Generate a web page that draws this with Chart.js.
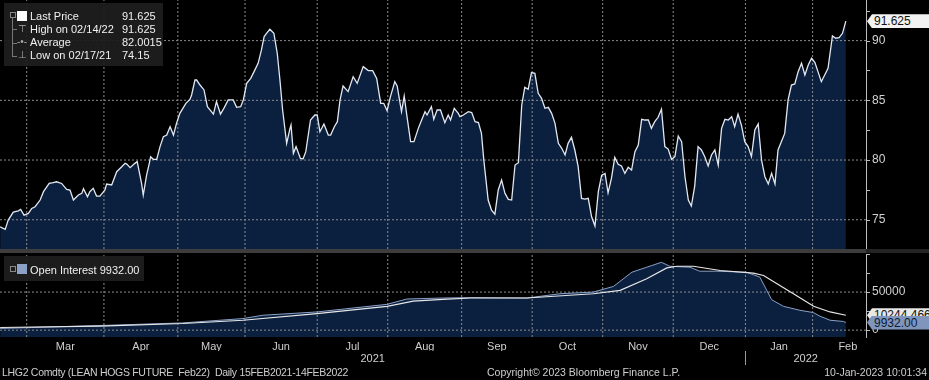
<!DOCTYPE html>
<html>
<head>
<meta charset="utf-8">
<script src="https://cdn.jsdelivr.net/npm/chart.js@4.4.1/dist/chart.umd.min.js"></script>
<style>
  html, body { margin: 0; padding: 0; background: #000; }
  body { width: 929px; height: 380px; position: relative; overflow: hidden; font-family: "Liberation Sans", Arial, sans-serif; color: #d6d6d6; }
  canvas { position: absolute; left: 0; }
  #priceChart { top: 0; }
  #oiChart { top: 253px; }
  .divider { position: absolute; top: 249px; height: 4px; }
  .legend { position: absolute; background: rgba(30, 30, 30, 0.94); }
  .row { position: absolute; font-size: 11px; line-height: 13px; color: #f0f0f0; white-space: nowrap; }
  .icon { position: absolute; }
  .tag { position: absolute; left: 867px; width: 62px; height: 14px; font-size: 12px; line-height: 14px; padding-left: 7px; box-sizing: border-box; white-space: nowrap; clip-path: polygon(5px 0, 100% 0, 100% 100%, 5px 100%, 0 50%); }
  .foot { position: absolute; top: 366px; font-size: 10.5px; line-height: 13px; color: #cfcfcf; white-space: nowrap; }
</style>
</head>
<body>
<canvas id="priceChart" width="929" height="250"></canvas>
<canvas id="oiChart" width="929" height="115"></canvas>

<div class="divider" style="left:0;width:866px;background:#3d3d3d;"></div>
<div class="divider" style="left:866px;width:63px;background:#242424;"></div>

<div class="legend" style="left:4px;top:3px;width:159px;height:63px;"></div>
<div class="icon" style="left:10px;top:12px;width:4px;height:4px;border:1px solid #888;"></div>
<div class="icon" style="left:12px;top:18px;width:1px;height:39px;background:#777;"></div>
<div class="icon" style="left:12px;top:29px;width:5px;height:1px;background:#777;"></div>
<div class="icon" style="left:12px;top:43px;width:5px;height:1px;background:#777;"></div>
<div class="icon" style="left:12px;top:56px;width:5px;height:1px;background:#777;"></div>
<div class="icon" style="left:17px;top:11px;width:10px;height:10px;background:#fff;"></div>
<div class="icon" style="left:18px;top:23px;font-size:10px;color:#aaa;">⊤</div>
<div class="icon" style="left:17px;top:36px;font-size:10px;color:#aaa;">-•-</div>
<div class="icon" style="left:18px;top:49px;font-size:10px;color:#aaa;">⊥</div>
<div class="row" style="left:30px;top:10px;">Last Price</div>
<div class="row" style="left:122px;top:10px;" id="lastPriceText"></div>
<div class="row" style="left:30px;top:23px;" id="highText"></div>
<div class="row" style="left:122px;top:23px;" id="highValueText"></div>
<div class="row" style="left:30px;top:36px;">Average</div>
<div class="row" style="left:122px;top:36px;" id="avgText"></div>
<div class="row" style="left:30px;top:49px;" id="lowText"></div>
<div class="row" style="left:122px;top:49px;" id="lowValueText"></div>

<div class="legend" style="left:4px;top:256px;width:140px;height:25px;"></div>
<div class="icon" style="left:10px;top:266px;width:4px;height:4px;border:1px solid #888;"></div>
<div class="icon" style="left:17px;top:264px;width:10px;height:10px;background:#8ba1c8;"></div>
<div class="row" style="left:30px;top:264px;" id="oiLegendText"></div>

<div class="tag" id="overlayTag" style="background:#e8e8e8;color:#111;">10244.4669</div>
<div class="tag" id="oiTag" style="background:#8095bb;color:#0c1a33;"></div>
<div class="tag" id="priceTag" style="background:#f2f2f2;color:#111;"></div>

<div class="foot" style="left:2px;letter-spacing:-0.3px;">LHG2 Comdty (LEAN HOGS FUTURE&nbsp; Feb22)&nbsp; Daily 15FEB2021-14FEB2022</div>
<div class="foot" style="left:487px;">Copyright© 2023 Bloomberg Finance L.P.</div>
<div class="foot" style="right:2px;">10-Jan-2023 10:01:34</div>

<script>
// x values are trading days counted from 16 Feb 2021
const priceDays = [
    1.1, 2.6, 3.5, 5.0, 6.5, 7.2, 8.2, 9.5, 10.5, 11.5,
    13.0, 14.0, 15.7, 16.9, 17.9, 19.4, 20.9, 21.9, 22.9, 24.4,
    25.4, 25.9, 27.1, 27.8, 28.8, 29.8, 30.8, 32.3, 32.8, 34.3,
    35.8, 37.3, 38.3, 38.8, 39.8, 41.2, 41.9, 43.2, 43.7, 44.7,
    45.5, 45.9, 46.7, 47.7, 48.7, 49.7, 50.7, 51.7, 52.7, 53.6,
    54.6, 56.4, 57.6, 58.1, 59.1, 59.6, 60.6, 61.8, 62.8, 64.6,
    65.5, 66.7, 67.7, 69.0, 70.5, 71.5, 72.7, 73.5, 74.5, 75.7,
    76.7, 77.9, 78.9, 79.7, 80.4, 81.4, 82.6, 83.6, 84.4, 85.2,
    86.4, 87.4, 87.7, 88.4, 89.2, 90.5, 91.3, 92.1, 93.5, 94.8,
    95.5, 96.3, 97.5, 98.8, 99.5, 100.6, 101.5, 102.3, 103.2, 104.7,
    106.2, 107.4, 109.2, 110.7, 112.0, 113.2, 114.4, 115.3, 116.3, 117.3,
    118.6, 119.3, 120.6, 121.4, 122.1, 123.3, 124.3, 125.6, 126.6, 127.6,
    128.2, 129.5, 130.2, 131.2, 132.2, 133.5, 134.5, 135.2, 136.3, 137.5,
    138.0, 139.0, 140.5, 141.5, 142.5, 143.5, 144.4, 145.1, 146.4, 147.4,
    148.4, 149.4, 150.4, 151.4, 152.4, 153.4, 154.4, 155.4, 156.4, 157.3,
    158.3, 159.3, 160.3, 161.3, 162.3, 163.3, 164.3, 165.3, 166.3, 167.3,
    168.3, 169.3, 170.2, 171.2, 172.2, 173.2, 174.2, 175.2, 176.2, 177.2,
    178.2, 179.2, 180.2, 181.2, 182.1, 183.1, 184.1, 185.1, 186.1, 187.1,
    188.1, 189.1, 190.1, 191.1, 192.1, 193.1, 194.1, 195.0, 196.0, 197.0,
    198.0, 199.0, 200.0, 201.0, 202.0, 203.0, 204.0, 205.0, 206.0, 206.9,
    207.9, 208.9, 209.9, 210.9, 211.9, 212.9, 213.9, 214.9, 215.9, 216.9,
    217.9, 218.9, 219.8, 220.8, 221.8, 222.8, 223.8, 224.8, 225.8, 226.8,
    227.8, 228.8, 229.8, 230.8, 231.8, 232.7, 233.7, 234.7, 235.7, 236.7,
    237.7, 238.7, 239.7, 240.7, 241.7, 242.7, 243.7, 244.6, 245.6, 246.6,
    247.6, 248.9, 249.9, 250.9, 251.9, 252.9
];
const priceValues = [
    74.41, 74.19, 74.97, 75.64, 75.75, 75.87, 75.39, 75.53, 75.95, 76.09,
    76.65, 77.35, 78.04, 78.10, 78.18, 78.04, 77.54, 77.49, 76.65, 77.07,
    77.21, 77.60, 76.93, 77.35, 77.63, 76.98, 76.98, 77.49, 77.99, 77.91,
    79.02, 79.44, 79.72, 79.66, 79.36, 79.72, 79.86, 78.04, 77.07, 78.74,
    79.72, 80.28, 80.06, 80.06, 81.12, 81.96, 82.09, 82.79, 82.09, 83.07,
    83.91, 84.75, 85.08, 85.45, 86.70, 86.70, 86.28, 85.87, 84.47, 83.85,
    84.89, 83.85, 84.33, 85.03, 85.03, 84.41, 84.47, 85.03, 86.42, 86.84,
    87.40, 88.10, 89.22, 90.34, 90.61, 90.95, 90.61, 88.94, 86.70, 84.19,
    81.40, 82.65, 82.93, 80.56, 81.12, 80.14, 80.11, 80.70, 83.35, 83.77,
    83.77, 82.37, 83.02, 82.09, 82.09, 82.79, 83.21, 85.03, 86.20, 85.73,
    86.98, 86.42, 87.82, 87.49, 87.49, 86.84, 84.75, 84.75, 84.13, 85.31,
    86.56, 86.20, 84.05, 85.36, 83.91, 81.54, 81.54, 82.65, 83.35, 84.05,
    83.77, 84.47, 83.41, 84.19, 84.19, 83.13, 83.77, 83.35, 84.33, 83.91,
    83.63, 83.77, 84.05, 83.97, 83.21, 83.13, 82.23, 80.00, 76.65, 75.81,
    75.47, 77.49, 78.32, 77.21, 76.70, 76.65, 79.58, 79.78, 84.61, 86.09,
    85.92, 87.32, 87.26, 85.59, 85.17, 84.33, 84.41, 83.91, 83.07, 81.40,
    80.98, 80.42, 81.40, 81.90, 80.84, 79.44, 76.79, 76.73, 76.79, 75.25,
    74.47, 77.35, 78.74, 78.88, 77.26, 78.46, 80.22, 79.64, 79.50, 78.88,
    79.39, 79.16, 80.70, 81.26, 83.41, 83.35, 83.35, 82.65, 83.21, 83.58,
    84.25, 81.12, 80.92, 80.06, 80.28, 82.01, 81.54, 78.60, 76.65, 76.15,
    77.82, 81.12, 80.84, 80.28, 79.50, 80.42, 80.84, 79.58, 82.65, 83.41,
    83.35, 83.63, 82.79, 83.85, 82.93, 81.54, 81.12, 80.28, 82.51, 83.02,
    80.00, 78.60, 77.99, 78.88, 77.99, 80.84, 81.54, 82.23, 85.03, 86.28,
    86.37, 87.40, 88.10, 87.12, 87.96, 88.52, 88.16, 87.40, 86.56, 87.12,
    87.68, 90.39, 90.20, 90.25, 90.61, 91.625
];

const oiDays = [1.1, 30.8, 55.5, 73.4, 79.3, 95.4, 116.3, 122.2, 132.9, 141.2,
    157.9, 167.8, 177.7, 183.7, 189.2, 193.6, 198.0, 200.5, 206.5, 209.4,
    214.4, 223.3, 227.3, 230.8, 234.3, 239.2, 243.2, 245.2, 248.2, 252.2, 252.9];
const openInterest = [2200, 6100, 9500, 15200, 19600, 23900, 33900, 40900, 42200, 42700,
    42200, 47800, 50000, 57400, 76100, 82600, 89100, 83900, 82600, 77400,
    77400, 76100, 69600, 40000, 31300, 26100, 23100, 18300, 13000, 11400, 9932];

const overlayDays = [1.1, 30.8, 55.5, 73.4, 95.4, 116.3, 124.1, 132.9, 141.2, 157.9,
    177.7, 185.7, 193.6, 199.6, 202.6, 207.5, 215.5, 225.4, 228.4, 232.4,
    237.3, 243.3, 248.2, 252.9];
const oiOverlay = [3500, 5200, 8700, 13000, 21700, 31300, 38200, 40400, 42200, 42200,
    47800, 52200, 67500, 81800, 83900, 83900, 78300, 74800, 71800, 60900,
    47800, 31300, 23900, 19600];

const monthStarts = [9, 32, 54, 74, 95.5, 116.5, 138.5, 159.5, 180.5, 201.5, 223, 243, 264];
const monthNames = ['Mar', 'Apr', 'May', 'Jun', 'Jul', 'Aug', 'Sep', 'Oct', 'Nov', 'Dec', 'Jan', 'Feb'];
const yearNames = ['2021', '2022'];
const yearStart = 223;
const dayRange = [1.05, 258.9];

const priceTicks = [75, 77.5, 80, 82.5, 85, 87.5, 90, 92.5];
const priceLabels = [75, 80, 85, 90];
const priceRange = [72.55, 93.4];
const oiTicks = [0, 25000, 50000, 75000, 100000];
const oiLabels = [0, 50000];
const oiRange = [-9000, 100000];

const stats = {
    last: 91.625,
    high: 91.625, highDate: '02/14/22',
    average: '82.0015',
    low: 74.15, lowDate: '02/17/21',
    openInterest: '9932.00',
};

const FONT = '"Liberation Sans", Arial, sans-serif';
const AXIS = '#bdbdbd';
const GRID = '#8c8c8c';
const FILL = '#0b1f3e';

document.getElementById('lastPriceText').textContent = String(stats.last);
document.getElementById('highText').textContent = 'High on ' + stats.highDate;
document.getElementById('highValueText').textContent = String(stats.high);
document.getElementById('avgText').textContent = stats.average;
document.getElementById('lowText').textContent = 'Low on ' + stats.lowDate;
document.getElementById('lowValueText').textContent = String(stats.low);
document.getElementById('oiLegendText').textContent = 'Open Interest ' + stats.openInterest;
document.getElementById('priceTag').textContent = String(stats.last);
document.getElementById('oiTag').textContent = stats.openInterest;

function toPoints(xs, ys) {
    return xs.map((x, i) => ({ x: x, y: ys[i] }));
}

function setTicks(values) {
    return scale => { scale.ticks = values.map(v => ({ value: v })); };
}

function fixSize(prop, size) {
    return scale => {
        scale[prop] = size;
        scale.paddingTop = 0;
        scale.paddingBottom = 0;
        scale.paddingLeft = 0;
        scale.paddingRight = 0;
    };
}

function placeTag(id, canvasTop, pixel) {
    document.getElementById(id).style.top = (canvasTop + pixel - 7) + 'px';
}

const monthBoundaries = monthStarts.slice(0, -1);
const monthMiddles = monthNames.map((m, i) => (monthStarts[i] + monthStarts[i + 1]) / 2);
const yearMiddles = [(dayRange[0] + yearStart) / 2, (yearStart + dayRange[1]) / 2];

// dotted grid as thin dashed line datasets, drawn between the area fill and the series lines
function gridDatasets(yRange, yLines) {
    const style = { borderColor: GRID, borderWidth: 1, borderDash: [2, 2], fill: false, order: 1 };
    const verticals = monthBoundaries.map(v => ({
        ...style,
        data: [{ x: v, y: yRange[0] }, { x: v, y: yRange[1] }],
    }));
    const horizontals = yLines.map(v => ({
        ...style,
        data: [{ x: dayRange[0], y: v }, { x: dayRange[1], y: v }],
    }));
    return verticals.concat(horizontals);
}

// short tick marks to the right of the value axis
function drawTickMarks(chart, tickValues) {
    const ctx = chart.ctx;
    const right = Math.round(chart.chartArea.right);
    ctx.save();
    ctx.fillStyle = AXIS;
    for (const v of tickValues) {
        ctx.fillRect(right, Math.round(chart.scales.y.getPixelForValue(v)), 4, 1);
    }
    ctx.restore();
}

function rightAxis(range, ticks, labels) {
    return {
        position: 'right',
        min: range[0],
        max: range[1],
        afterBuildTicks: setTicks(ticks),
        afterFit: fixSize('width', 63),
        ticks: {
            color: '#d2d2d2',
            font: { family: FONT, size: 12 },
            padding: 6,
            callback: v => labels.includes(v) ? String(v) : '',
        },
        grid: { display: false, drawTicks: false },
        border: { display: true, color: AXIS, width: 1 },
    };
}

function monthGridAxis() {
    return {
        type: 'linear',
        weight: 0,
        min: dayRange[0],
        max: dayRange[1],
        afterFit: fixSize('height', 0),
        ticks: { display: false },
        grid: { display: false, drawTicks: false },
        border: { display: false },
    };
}

function labelAxis(weight, positions, names, padding) {
    return {
        type: 'linear',
        position: 'bottom',
        weight: weight,
        min: dayRange[0],
        max: dayRange[1],
        afterBuildTicks: setTicks(positions),
        afterFit: fixSize('height', 14),
        ticks: {
            color: '#cfcfcf',
            font: { family: FONT, size: 11 },
            padding: padding,
            autoSkip: false,
            maxRotation: 0,
            callback: (v, i) => names[i],
        },
        grid: { display: false, drawTicks: false },
        border: { display: false },
    };
}

const baseOptions = {
    responsive: false,
    animation: false,
    devicePixelRatio: 1,
    elements: { point: { radius: 0 }, line: { tension: 0 } },
    plugins: { legend: { display: false }, tooltip: { enabled: false } },
};

const pricePoints = toPoints(priceDays, priceValues);
const oiPoints = toPoints(oiDays, openInterest);

new Chart(document.getElementById('priceChart'), {
    type: 'line',
    data: {
        datasets: [
            { data: pricePoints, borderColor: '#e2e8f2', borderWidth: 1.3, fill: false, order: 0 },
            ...gridDatasets(priceRange, priceLabels),
            { data: pricePoints, borderWidth: 0, backgroundColor: FILL, fill: 'start', order: 2 },
        ],
    },
    options: {
        ...baseOptions,
        layout: { padding: { top: 0, bottom: 1, left: 0, right: 0 } },
        scales: {
            x: monthGridAxis(),
            y: rightAxis(priceRange, priceTicks, priceLabels),
        },
    },
    plugins: [{
        id: 'priceOverlay',
        afterDraw: chart => {
            drawTickMarks(chart, priceTicks);
            placeTag('priceTag', 0, chart.scales.y.getPixelForValue(stats.last));
        },
    }],
});

new Chart(document.getElementById('oiChart'), {
    type: 'line',
    data: {
        datasets: [
            { data: toPoints(overlayDays, oiOverlay), borderColor: '#e6e6e6', borderWidth: 1.2, fill: false, order: 0 },
            { data: oiPoints, borderColor: '#8aa0c6', borderWidth: 1, fill: false, order: 0.5 },
            ...gridDatasets(oiRange, oiLabels),
            { data: oiPoints, borderWidth: 0, backgroundColor: FILL, fill: 'start', order: 2 },
        ],
    },
    options: {
        ...baseOptions,
        layout: { padding: { top: 1, bottom: 3, left: 0, right: 0 } },
        scales: {
            x: monthGridAxis(),
            xm: labelAxis(1, monthMiddles, monthNames, 3),
            xy: labelAxis(2, yearMiddles, yearNames, 1),
            y: rightAxis(oiRange, oiTicks, oiLabels),
        },
    },
    plugins: [{
        id: 'oiOverlay',
        afterDraw: chart => {
            drawTickMarks(chart, oiTicks);
            const xy = chart.scales.xy;
            const ctx = chart.ctx;
            ctx.save();
            ctx.fillStyle = '#9a9a9a';
            ctx.fillRect(Math.round(xy.getPixelForValue(yearStart)), xy.top, 1, xy.bottom - xy.top);
            ctx.restore();
            placeTag('oiTag', 253, chart.scales.y.getPixelForValue(openInterest[openInterest.length - 1]));
            placeTag('overlayTag', 253, chart.scales.y.getPixelForValue(oiOverlay[oiOverlay.length - 1]));
        },
    }],
});
</script>
</body>
</html>
